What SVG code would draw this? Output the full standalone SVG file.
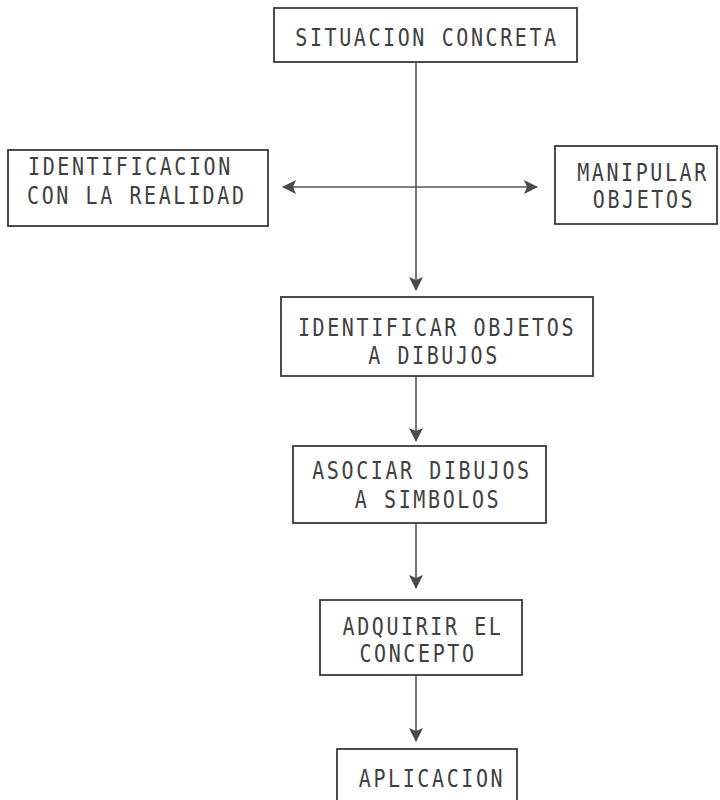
<svg xmlns="http://www.w3.org/2000/svg" width="720" height="800" viewBox="0 0 720 800">
  <style>
    .box { fill: #ffffff; stroke: #3a3a3a; stroke-width: 1.8; }
    .lbl { font-family: "DejaVu Sans Mono", "Liberation Mono", monospace; font-size: 20px; letter-spacing: 2.6px; fill: #404040; }
    .c { text-anchor: middle; }
    .wire { stroke: #555555; stroke-width: 1.6; fill: none; }
  </style>
  <defs>
    <marker id="tip" viewBox="0 0 14 14" refX="13" refY="7" markerWidth="14" markerHeight="14" markerUnits="userSpaceOnUse" orient="auto-start-reverse">
      <path d="M0,0 L14,7 L0,14 L3,7 Z" fill="#4a4a4a"/>
    </marker>
  </defs>
  <rect width="720" height="800" fill="#ffffff"/>

  <g id="connectors">
    <line class="wire" x1="416" y1="62" x2="416" y2="290" marker-end="url(#tip)"/>
    <line class="wire" x1="283" y1="187" x2="537" y2="187" marker-start="url(#tip)" marker-end="url(#tip)"/>
    <line class="wire" x1="416" y1="376" x2="416" y2="441" marker-end="url(#tip)"/>
    <line class="wire" x1="416" y1="523" x2="416" y2="588" marker-end="url(#tip)"/>
    <line class="wire" x1="416" y1="675" x2="416" y2="741" marker-end="url(#tip)"/>
  </g>

  <!-- labels are stretched a little vertically for the tall plotter lettering -->
  <g id="situacion">
    <rect class="box" x="274" y="8" width="303" height="54"/>
    <text class="lbl c" transform="translate(427,46) scale(1,1.2)">SITUACION CONCRETA</text>
  </g>

  <g id="identificacion">
    <rect class="box" x="8" y="150" width="260" height="76"/>
    <text class="lbl" transform="translate(28,175) scale(1,1.2)">IDENTIFICACION</text>
    <text class="lbl" transform="translate(27,204) scale(1,1.2)">CON LA REALIDAD</text>
  </g>

  <g id="manipular">
    <rect class="box" x="555" y="146" width="162" height="78"/>
    <text class="lbl c" transform="translate(643,181) scale(1,1.2)">MANIPULAR</text>
    <text class="lbl c" transform="translate(644,208) scale(1,1.2)">OBJETOS</text>
  </g>

  <g id="identificar">
    <rect class="box" x="281" y="297" width="312" height="79"/>
    <text class="lbl c" transform="translate(437,336) scale(1,1.2)">IDENTIFICAR OBJETOS</text>
    <text class="lbl c" transform="translate(434,364) scale(1,1.2)">A DIBUJOS</text>
  </g>

  <g id="asociar">
    <rect class="box" x="293" y="446" width="253" height="77"/>
    <text class="lbl c" transform="translate(422,479) scale(1,1.2)">ASOCIAR DIBUJOS</text>
    <text class="lbl c" transform="translate(428,508) scale(1,1.2)">A SIMBOLOS</text>
  </g>

  <g id="adquirir">
    <rect class="box" x="320" y="600" width="202" height="75"/>
    <text class="lbl c" transform="translate(423,635) scale(1,1.2)">ADQUIRIR EL</text>
    <text class="lbl c" transform="translate(418,662) scale(1,1.2)">CONCEPTO</text>
  </g>

  <g id="aplicacion">
    <rect class="box" x="337" y="749" width="180" height="60"/>
    <text class="lbl c" transform="translate(432,787) scale(1,1.2)">APLICACION</text>
  </g>
</svg>
